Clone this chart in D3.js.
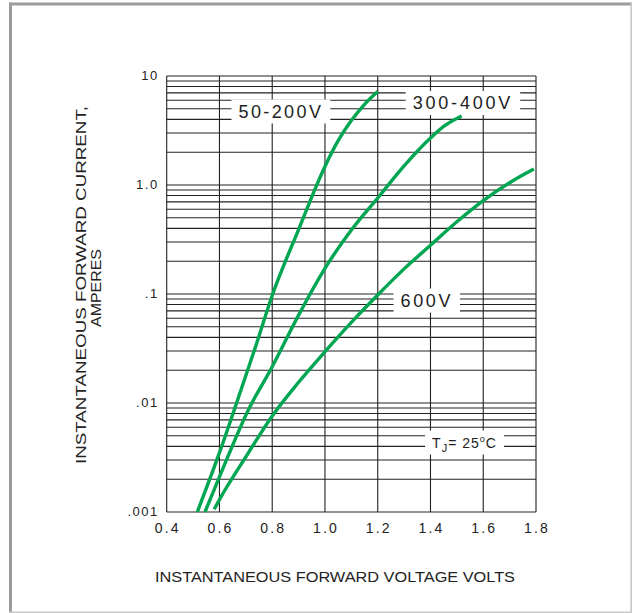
<!DOCTYPE html>
<html>
<head>
<meta charset="utf-8">
<script src="https://cdn.jsdelivr.net/npm/d3@7"></script>
<style>
  body { margin: 0; background: #fff; }
  svg { display: block; font-family: "Liberation Sans", Arial, sans-serif; }
</style>
</head>
<body>
<svg></svg>
<script>
// x axis - forward voltage, volts
const voltTicks = [0.4, 0.6, 0.8, 1.0, 1.2, 1.4, 1.6, 1.8];
const voltLabels = ["0.4", "0.6", "0.8", "1.0", "1.2", "1.4", "1.6", "1.8"];
// y axis - forward current, amperes (log)
const ampTicks = [0.001, 0.01, 0.1, 1, 10];
const ampLabels = [".001", ".01", ".1", "1.0", "10"];

// curves
const seriesNames = ["50-200V", "300-400V", "600V"];
const volt50_200 = [0.516, 0.6, 0.678, 0.737, 0.8, 0.9, 1.0, 1.05, 1.1, 1.15, 1.2];
const amp50_200 = [0.001, 0.0035, 0.0124, 0.033, 0.097, 0.39, 1.48, 2.55, 3.9, 5.5, 7.2];
const volt300_400 = [0.545, 0.6, 0.709, 0.8, 0.9, 1.0, 1.1, 1.2, 1.3, 1.4, 1.45, 1.518];
const amp300_400 = [0.001, 0.0021, 0.0086, 0.0215, 0.064, 0.172, 0.386, 0.76, 1.5, 2.7, 3.45, 4.3];
const volt600 = [0.58, 0.6, 0.7, 0.8, 0.9, 1.0, 1.1, 1.2, 1.3, 1.4, 1.5, 1.6, 1.7, 1.792];
const amp600 = [0.00106, 0.0013, 0.0032, 0.0076, 0.0155, 0.0296, 0.055, 0.098, 0.17, 0.28, 0.46, 0.72, 1.05, 1.40];

const width = 632;
const height = 613;
const plotLeft = 166.7, plotRight = 536, plotTop = 76, plotBottom = 512;
const green = "#00a651";

let svg = d3.select("svg")
  .attr("width", width)
  .attr("height", height);

let scX = d3.scaleLinear().domain([0.4, 1.8]).range([plotLeft, plotRight]);
let scY = d3.scaleLog().domain([0.001, 10]).range([plotBottom, plotTop]);

// outer frame
svg.append("line").attr("x1", 10.5).attr("y1", 2.5).attr("x2", 10.5).attr("y2", 613)
  .attr("stroke", "#9b9b9b").attr("stroke-width", 3);
svg.append("line").attr("x1", 9).attr("y1", 4).attr("x2", 632).attr("y2", 4)
  .attr("stroke", "#9b9b9b").attr("stroke-width", 3);
svg.append("line").attr("x1", 631.2).attr("y1", 3).attr("x2", 631.2).attr("y2", 613)
  .attr("stroke", "#c8c8c8").attr("stroke-width", 1.6);
svg.append("line").attr("x1", 9).attr("y1", 612.2).attr("x2", 632).attr("y2", 612.2)
  .attr("stroke", "#c8c8c8").attr("stroke-width", 1.6);

// grid: log lines 1..9 in every decade
let grid = svg.append("g").attr("stroke", "#222").attr("stroke-width", 1.1);
grid.selectAll(".h")
  .data(scY.ticks())
  .enter()
  .append("line")
  .attr("x1", plotLeft).attr("x2", plotRight)
  .attr("y1", d => scY(d)).attr("y2", d => scY(d));
grid.selectAll(".v")
  .data(voltTicks)
  .enter()
  .append("line")
  .attr("x1", d => scX(d)).attr("x2", d => scX(d))
  .attr("y1", plotTop).attr("y2", plotBottom);

// tick labels
svg.append("g")
  .selectAll("text")
  .data(voltTicks)
  .enter()
  .append("text")
  .attr("x", d => scX(d) + 1)
  .attr("y", plotBottom + 21)
  .attr("text-anchor", "middle")
  .style("font-size", "14px")
  .style("letter-spacing", "2.2px")
  .attr("fill", "#222")
  .text((d, i) => voltLabels[i]);

svg.append("g")
  .selectAll("text")
  .data(ampTicks)
  .enter()
  .append("text")
  .attr("x", plotLeft - 8)
  .attr("y", d => scY(d) + 4)
  .attr("text-anchor", "end")
  .style("font-size", "13px")
  .style("letter-spacing", "1.5px")
  .attr("fill", "#222")
  .text((d, i) => ampLabels[i]);

// label boxes cut the grid, then text on top
let labelLayer = svg.append("g");
function boxedLabel(v, a, fontSize, build) {
  let g = labelLayer.append("g");
  let rect = g.append("rect").attr("fill", "#fff");
  let t = g.append("text")
    .attr("x", scX(v))
    .attr("y", scY(a))
    .attr("text-anchor", "middle")
    .style("font-size", fontSize + "px")
    .attr("fill", "#222");
  build(t);
  let bb = t.node().getBBox();
  let cy = scY(a) - fontSize * 0.36;
  rect.attr("x", bb.x - 7).attr("width", bb.width + 14)
    .attr("y", cy - 12).attr("height", 24);
}

boxedLabel(0.833, 4.12, 18, t => t.style("letter-spacing", "2.4px").text(seriesNames[0]));
boxedLabel(1.523, 4.93, 18, t => t.style("letter-spacing", "2.8px").text(seriesNames[1]));
boxedLabel(1.386, 0.076, 18, t => t.style("letter-spacing", "2.6px").text(seriesNames[2]));
boxedLabel(1.529, 0.0039, 14, t => {
  t.style("letter-spacing", "1px");
  t.append("tspan").text("T");
  t.append("tspan").attr("dy", 4).style("font-size", "11px").text("J");
  t.append("tspan").attr("dy", -4).text("= 25");
  t.append("tspan").attr("dy", -6).style("font-size", "9px").text("o");
  t.append("tspan").attr("dy", 6).text("C");
});

// curves
let line = d3.line()
  .x(d => scX(d[0]))
  .y(d => scY(d[1]))
  .curve(d3.curveMonotoneX);

let curves = [
  d3.zip(volt50_200, amp50_200),
  d3.zip(volt300_400, amp300_400),
  d3.zip(volt600, amp600)
];
svg.append("g")
  .selectAll("path")
  .data(curves)
  .enter()
  .append("path")
  .attr("d", line)
  .attr("fill", "none")
  .attr("stroke", green)
  .attr("stroke-width", 3.4)
  .attr("stroke-linecap", "butt");

// axis titles
svg.append("text")
  .attr("x", 335)
  .attr("y", 582)
  .attr("text-anchor", "middle")
  .attr("textLength", 360)
  .attr("lengthAdjust", "spacingAndGlyphs")
  .style("font-size", "14px")
  .attr("fill", "#222")
  .text("INSTANTANEOUS FORWARD VOLTAGE VOLTS");

svg.append("text")
  .attr("transform", "translate(86, 285) rotate(-90)")
  .attr("text-anchor", "middle")
  .attr("textLength", 358)
  .attr("lengthAdjust", "spacingAndGlyphs")
  .style("font-size", "14.5px")
  .attr("fill", "#222")
  .text("INSTANTANEOUS FORWARD CURRENT,");

svg.append("text")
  .attr("transform", "translate(100.5, 288) rotate(-90)")
  .attr("text-anchor", "middle")
  .attr("textLength", 78)
  .attr("lengthAdjust", "spacingAndGlyphs")
  .style("font-size", "14.5px")
  .attr("fill", "#222")
  .text("AMPERES");
</script>
</body>
</html>
